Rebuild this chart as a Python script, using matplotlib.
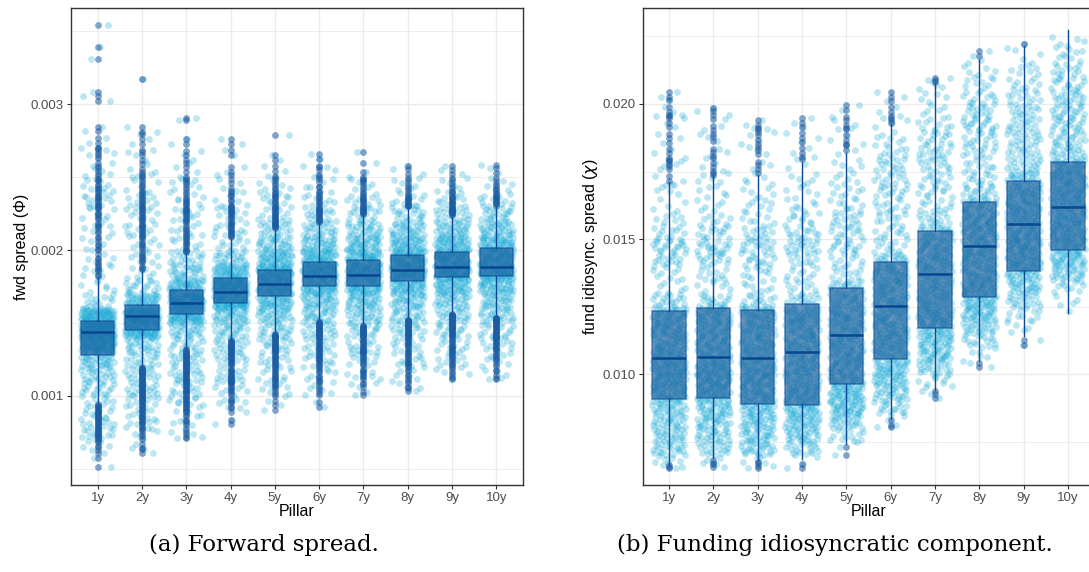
import numpy as np
import matplotlib
matplotlib.use("Agg")
import matplotlib.pyplot as plt

plt.rcParams['font.family'] = ['Liberation Sans', 'DejaVu Sans']

pillars = ['1y', '2y', '3y', '4y', '5y', '6y', '7y', '8y', '9y', '10y']

# ---- panel (a): forward spread -------------------------------------------
# box stats
fwd_q1 = [0.001281, 0.001452, 0.001560, 0.001635, 0.001687, 0.001753, 0.001756, 0.001790, 0.001817, 0.001822]
fwd_med = [0.001441, 0.001548, 0.001635, 0.001714, 0.001765, 0.001822, 0.001829, 0.001863, 0.001881, 0.001886]
fwd_q3 = [0.001512, 0.001623, 0.001726, 0.001806, 0.001863, 0.001916, 0.001932, 0.001966, 0.001989, 0.002011]
fwd_wlo = [0.000950, 0.001200, 0.001327, 0.001384, 0.001430, 0.001509, 0.001486, 0.001532, 0.001566, 0.001543]
fwd_whi = [0.001817, 0.001863, 0.001980, 0.002080, 0.002148, 0.002194, 0.002240, 0.002297, 0.002240, 0.002301]

# number of points per 0.0001-wide band, band lower edges 0.0005 ... 0.0035
fwd_step = 0.0001
fwd_lo = 0.0005
fwd_counts = [
    [2, 6, 15, 15, 12, 18, 24, 36, 84, 102, 78, 15, 7, 6, 6, 6, 6, 8, 10, 8, 6, 5, 3, 2, 0, 3, 0, 0, 2, 0, 1],
    [0, 4, 7, 11, 13, 17, 18, 18, 24, 72, 102, 48, 18, 8, 7, 8, 10, 10, 8, 7, 5, 4, 3, 2, 0, 0, 1, 0, 0, 0, 0],
    [0, 0, 5, 8, 11, 14, 17, 18, 18, 27, 66, 90, 54, 27, 18, 8, 8, 10, 8, 6, 4, 3, 2, 1, 1, 0, 0, 0, 0, 0, 0],
    [0, 0, 0, 3, 6, 10, 13, 14, 18, 24, 36, 78, 84, 54, 24, 11, 11, 10, 7, 4, 3, 2, 2, 0, 0, 0, 0, 0, 0, 0, 0],
    [0, 0, 0, 0, 4, 7, 10, 12, 16, 21, 30, 48, 72, 72, 48, 30, 18, 12, 10, 6, 3, 2, 1, 0, 0, 0, 0, 0, 0, 0, 0],
    [0, 0, 0, 0, 2, 6, 8, 11, 14, 18, 27, 36, 57, 72, 54, 36, 24, 13, 8, 6, 4, 2, 0, 0, 0, 0, 0, 0, 0, 0, 0],
    [0, 0, 0, 0, 0, 5, 7, 10, 13, 18, 27, 36, 57, 72, 57, 39, 27, 15, 10, 6, 3, 1, 0, 0, 0, 0, 0, 0, 0, 0, 0],
    [0, 0, 0, 0, 0, 4, 7, 10, 12, 17, 24, 33, 51, 72, 63, 45, 30, 18, 11, 6, 3, 0, 0, 0, 0, 0, 0, 0, 0, 0, 0],
    [0, 0, 0, 0, 0, 0, 6, 8, 12, 15, 24, 30, 48, 75, 69, 48, 33, 19, 11, 6, 3, 0, 0, 0, 0, 0, 0, 0, 0, 0, 0],
    [0, 0, 0, 0, 0, 0, 5, 8, 12, 15, 24, 30, 45, 69, 69, 51, 33, 21, 11, 6, 3, 0, 0, 0, 0, 0, 0, 0, 0, 0, 0],
]

# ---- panel (b): funding idiosyncratic component ----------------------------
fid_q1 = [0.009075, 0.009112, 0.008891, 0.008865, 0.009630, 0.010555, 0.011700, 0.012850, 0.013820, 0.014590]
fid_med = [0.010592, 0.010651, 0.010614, 0.010836, 0.011453, 0.012537, 0.013710, 0.014760, 0.015560, 0.016190]
fid_q3 = [0.012330, 0.012440, 0.012378, 0.012589, 0.013180, 0.014142, 0.015300, 0.016360, 0.017160, 0.017840]
fid_wlo = [0.006683, 0.006894, 0.006830, 0.006857, 0.007411, 0.008336, 0.009440, 0.010500, 0.011416, 0.012280]
fid_whi = [0.017123, 0.017370, 0.017370, 0.017862, 0.018173, 0.019257, 0.020760, 0.021620, 0.022150, 0.022740]

# number of points per 0.0005-wide band, band lower edges 0.0065 ... 0.0225
fid_step = 0.0005
fid_lo = 0.0065
fid_counts = [
    [9, 21, 24, 24, 27, 36, 39, 39, 36, 33, 33, 33, 18, 6, 8, 15, 18, 12, 7, 5, 5, 4, 5, 3, 3, 3, 4, 3, 0, 0, 0, 0, 0],
    [5, 18, 24, 27, 30, 36, 39, 39, 36, 33, 33, 33, 17, 7, 10, 14, 17, 13, 8, 6, 6, 5, 4, 3, 3, 3, 3, 0, 0, 0, 0, 0, 0],
    [6, 24, 27, 30, 33, 36, 36, 36, 33, 33, 33, 33, 15, 8, 10, 14, 16, 12, 8, 7, 6, 5, 3, 3, 4, 4, 0, 0, 0, 0, 0, 0, 0],
    [3, 18, 27, 33, 36, 36, 33, 33, 33, 33, 33, 33, 18, 10, 8, 12, 16, 14, 10, 7, 6, 5, 3, 3, 3, 3, 0, 0, 0, 0, 0, 0, 0],
    [0, 3, 12, 24, 36, 39, 36, 33, 33, 33, 33, 33, 30, 24, 10, 11, 13, 13, 12, 10, 8, 7, 5, 3, 3, 4, 3, 0, 0, 0, 0, 0, 0],
    [0, 0, 0, 4, 15, 24, 30, 33, 33, 33, 33, 33, 33, 33, 33, 24, 12, 10, 10, 11, 12, 13, 12, 10, 7, 4, 3, 3, 0, 0, 0, 0, 0],
    [0, 0, 0, 0, 0, 3, 9, 21, 30, 33, 36, 36, 33, 33, 33, 33, 33, 27, 15, 11, 11, 11, 13, 14, 13, 10, 6, 5, 6, 0, 0, 0, 0],
    [0, 0, 0, 0, 0, 0, 0, 2, 6, 15, 24, 33, 36, 36, 33, 33, 33, 33, 33, 30, 18, 12, 11, 12, 14, 16, 14, 12, 8, 6, 4, 0, 0],
    [0, 0, 0, 0, 0, 0, 0, 0, 0, 2, 6, 11, 18, 27, 33, 36, 36, 36, 36, 36, 33, 27, 18, 16, 16, 16, 14, 12, 10, 7, 4, 2, 0],
    [0, 0, 0, 0, 0, 0, 0, 0, 0, 0, 0, 1, 4, 11, 24, 33, 36, 36, 36, 36, 36, 36, 30, 21, 18, 18, 18, 17, 14, 12, 8, 7, 0],
]

pt_color = '#12a8d6'
box_face = '#1a5797'
box_edge = '#0b4a96'
out_color = '#1b5ca3'
jit = 0.38


def halton(k, base):
    f, r = 1.0, 0.0
    while k > 0:
        f /= base
        r += f * (k % base)
        k //= base
    return r


def cloud(counts, lo, step, start):
    # Halton layout for the jitter: x offset and place inside a band
    xs, ys = [], []
    k = start
    for b, n in enumerate(counts):
        for j in range(n):
            k += 1
            xs.append((halton(k, 2) - 0.5) * 2 * jit)
            ys.append(lo + (b + halton(k, 3)) * step)
    return np.array(xs), np.array(ys)


def panel(ax, counts, lo, step, q1, med, q3, wlo, whi):
    pos = np.arange(1, len(pillars) + 1)
    clouds = [cloud(counts[i], lo, step, 37 + 611 * i) for i in range(len(pillars))]
    for p, (dx, y) in zip(pos, clouds):
        ax.scatter(p + dx, y, s=24, color=pt_color, alpha=0.28, linewidths=0, zorder=2)
    stats = []
    for i in range(len(pillars)):
        stats.append(dict(med=med[i], q1=q1[i], q3=q3[i], whislo=wlo[i], whishi=whi[i], fliers=[]))
    ax.bxp(stats, positions=pos, widths=0.75, patch_artist=True, showfliers=False, showcaps=False,
           boxprops=dict(facecolor=box_face, alpha=0.6, edgecolor=box_edge, linewidth=1.1),
           whiskerprops=dict(color=box_edge, linewidth=1.0),
           medianprops=dict(color='#08468f', linewidth=1.8), zorder=3)
    # outliers: the same points, drawn on the centre line
    for i, (p, (dx, y)) in enumerate(zip(pos, clouds)):
        o = y[(y > whi[i]) | (y < wlo[i])]
        ax.scatter(np.full(len(o), p), o, s=24, color=out_color, alpha=0.55, linewidths=0, zorder=4)
    ax.set_xticks(pos)
    ax.set_xticklabels(pillars)
    ax.set_xlim(0.4, 10.6)
    ax.grid(True, which='major', color='#ebebeb', linewidth=1.0, zorder=0)
    ax.grid(True, which='minor', axis='y', color='#ebebeb', linewidth=0.6, zorder=0)
    ax.set_axisbelow(True)
    for s in ax.spines.values():
        s.set_color('#333333')
        s.set_linewidth(1.0)
    ax.tick_params(axis='both', which='major', labelsize=9.5, labelcolor='#4d4d4d',
                   color='#333333', length=3, width=0.8, pad=2)
    ax.tick_params(axis='y', which='minor', length=0)
    ax.set_xlabel('Pillar', fontsize=11.5, labelpad=0)


fig = plt.figure(figsize=(10.89, 5.72), dpi=100)
ax1 = fig.add_axes([71 / 1089, 87 / 572, 452 / 1089, 477 / 572])
ax2 = fig.add_axes([642.5 / 1089, 87 / 572, 452 / 1089, 477 / 572])

panel(ax1, fwd_counts, fwd_lo, fwd_step, fwd_q1, fwd_med, fwd_q3, fwd_wlo, fwd_whi)
ax1.set_ylim(0.00039, 0.003658)
ax1.set_yticks([0.001, 0.002, 0.003])
ax1.set_yticklabels(['0.001', '0.002', '0.003'])
ax1.set_yticks([0.0005, 0.0015, 0.0025, 0.0035], minor=True)
ax1.set_ylabel('fwd spread (Φ)', fontsize=11.5, labelpad=1)

panel(ax2, fid_counts, fid_lo, fid_step, fid_q1, fid_med, fid_q3, fid_wlo, fid_whi)
ax2.set_ylim(0.00591, 0.02355)
ax2.set_yticks([0.010, 0.015, 0.020])
ax2.set_yticklabels(['0.010', '0.015', '0.020'])
ax2.set_yticks([0.0075, 0.0125, 0.0175, 0.0225], minor=True)
ax2.set_ylabel(r'fund idiosync. spread ($\chi$)', fontsize=11.5, labelpad=2)

fig.text(264 / 1089, 1 - 545 / 572, '(a) Forward spread.', ha='center', va='center',
         fontsize=16.5, family='DejaVu Serif')
fig.text(835 / 1089, 1 - 545 / 572, '(b) Funding idiosyncratic component.', ha='center', va='center',
         fontsize=16.5, family='DejaVu Serif')

fig.savefig('out.png', dpi=100, facecolor='white')
